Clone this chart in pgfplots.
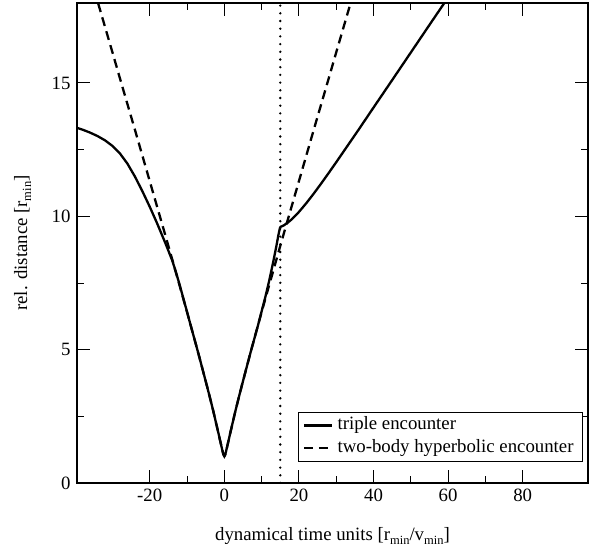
\documentclass[border=0pt]{standalone}
\usepackage{fontspec}
\setmainfont{Liberation Serif}
\usepackage{pgfplots}
\pgfplotsset{compat=1.18}
\usetikzlibrary{calc}
\newcommand{\sub}[1]{\raisebox{-0.45ex}{\fontsize{12.5}{14}\selectfont #1}}
\begin{document}
\fontsize{18.8}{22}\selectfont
\begin{tikzpicture}
\begin{axis}[
  scale only axis, width=511pt, height=480pt,
  xmin=-39.5, xmax=97.5, ymin=0, ymax=18,
  xtick={-20,0,20,40,60,80}, xticklabels={-20,0,20,40,60,80},
  ytick={0,5,10,15}, yticklabels={0,5,10,15},
  minor x tick num=1, minor y tick num=1,
  tick align=inside, major tick length=13pt, minor tick length=7pt,
  tick style={black, line width=1pt},
  axis line style={line width=1.5pt},
  ticklabel style={font=\fontsize{18.8}{22}\selectfont},
  label style={font=\fontsize{18.8}{22}\selectfont},
  xlabel={dynamical time units [r\sub{min}/v\sub{min}]},
  ylabel={rel. distance [r\sub{min}]},
  xlabel style={yshift=-13pt},
  ylabel style={yshift=8pt},
  legend style={at={(1,0)}, anchor=south east, xshift=-5pt, yshift=21pt,
    draw=black, line width=0.9pt, fill=white, inner xsep=5pt, inner ysep=2.5pt,
    font=\fontsize{18.8}{22}\selectfont,
    nodes={inner xsep=4pt, inner ysep=2.9pt, text height=12.5pt, text depth=4pt}},
  legend cell align=left,
  legend image code/.code={\draw[#1] (0pt,0pt) -- (28pt,0pt);},
]
\addplot[black, line width=2.3pt, line join=round] coordinates {
(-39.5,13.32) (-38,13.25) (-36,13.14) (-34,13.01) (-32,12.85) (-30,12.64)
(-28,12.36) (-26,11.98) (-24,11.50) (-22,10.95) (-20,10.36) (-18,9.73)
(-16,9.06) (-14,8.36) (-13,7.92) (-12,7.44) (-11,6.93) (-10,6.42)
(-9,5.90) (-8,5.39) (-7,4.88) (-6,4.35) (-5,3.82) (-4,3.28) (-3,2.72)
(-2,2.12) (-1.5,1.82) (-1,1.51) (-0.75,1.36) (-0.5,1.21) (-0.25,1.07) (0,1.00)
(0.25,1.07) (0.5,1.21) (0.75,1.36) (1,1.51) (1.5,1.82) (2,2.12) (3,2.72)
(4,3.28) (5,3.82) (6,4.35) (7,4.88) (8,5.39) (9,5.90) (10,6.44) (11,6.98)
(12,7.57) (13,8.22) (14,8.92) (14.5,9.30) (14.9,9.56) (15.1,9.61) (15.5,9.63)
(16,9.667) (17,9.763) (18,9.88) (19,10.016) (20,10.165) (22,10.497)
(24,10.858) (26,11.238) (28,11.63) (30,12.03) (33,12.64) (36,13.25)
(40,14.08) (45,15.11) (50,16.145) (55,17.18) (60,18.21)
};
\addlegendentry{triple encounter}
\addplot[black, line width=2.3pt, dash pattern=on 9pt off 5.5pt] coordinates {
(-36,19.03) (-34,18.07) (-32,17.11) (-30,16.15) (-28,15.18) (-26,14.22)
(-24,13.26) (-22,12.29) (-20,11.32) (-18,10.35) (-16,9.38) (-15,8.89)
(-14,8.40) (-13,7.90) (-12,7.41) (-11,6.91) (-10,6.41) (-9,5.90) (-8,5.39)
(-7,4.88) (-6,4.35) (-5,3.82) (-4,3.28) (-3,2.72) (-2,2.12) (-1.5,1.82)
(-1,1.51) (-0.75,1.36) (-0.5,1.21) (-0.25,1.07) (0,1.00)
(0.25,1.07) (0.5,1.21) (0.75,1.36) (1,1.51) (1.5,1.82) (2,2.12) (3,2.72)
(4,3.28) (5,3.82) (6,4.35) (7,4.88) (8,5.39) (9,5.90) (10,6.41) (11,6.91)
(12,7.41) (13,7.90) (14,8.40) (15,8.89) (16,9.38) (18,10.35) (20,11.32)
(22,12.29) (24,13.26) (26,14.22) (28,15.18) (30,16.15) (32,17.11)
(34,18.07) (36,19.03)
};
\addlegendentry{two-body hyperbolic encounter}
\addplot[black, line width=2.6pt, line cap=round, dash pattern=on 0pt off 7.7pt, forget plot] coordinates {(15,0) (15,18)};
\end{axis}
\pgfresetboundingbox
\path[use as bounding box] ($(current axis.south west)+(-77pt,-71pt)$) rectangle ($(current axis.north east)+(1pt,3pt)$);
\end{tikzpicture}
\end{document}
